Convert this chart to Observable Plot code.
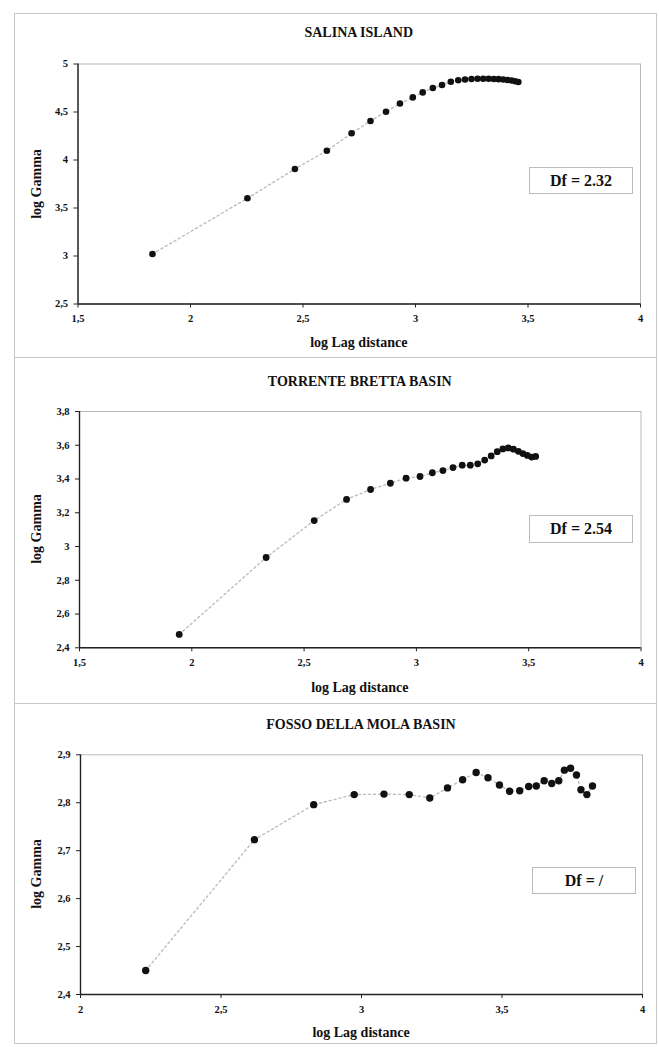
<!DOCTYPE html>
<html>
<head>
<meta charset="utf-8">
<script src="https://cdn.jsdelivr.net/npm/d3@7"></script>
<script src="https://cdn.jsdelivr.net/npm/@observablehq/plot@0.6"></script>
<style>
  html, body { margin: 0; padding: 0; background: #fff; }
  #wrap { position: relative; width: 659px; height: 1047px; font-family: "Times New Roman", Times, "Liberation Serif", "DejaVu Serif", serif; color: #111; overflow: hidden; }
  .abs { position: absolute; }
  .title { font-weight: bold; font-size: 14px; text-align: center; white-space: nowrap; transform: translate(-50%, -50%); }
  .xlab { font-weight: bold; font-size: 14px; white-space: nowrap; transform: translate(-50%, -50%); }
  .ylab { font-weight: bold; font-size: 14px; white-space: nowrap; transform: translate(-50%, -50%) rotate(-90deg); }
  .df { border: 1px solid #bbb; background: #fff; font-weight: bold; font-size: 16px; display: flex; align-items: center; justify-content: center; box-sizing: border-box; }
  .frame { border: 1px solid #c8c8c8; box-sizing: border-box; }
  .sep { height: 0; border-top: 1px solid #c8c8c8; }
</style>
</head>
<body>
<div id="wrap"></div>
<script>
// ---- Data ----
const salinaTitle = "SALINA ISLAND";
const salinaX = [1.831, 2.253, 2.464, 2.606, 2.716, 2.800, 2.869, 2.931, 2.988, 3.032, 3.077, 3.118, 3.157, 3.190, 3.220, 3.249, 3.276, 3.301, 3.325, 3.348, 3.369, 3.390, 3.409, 3.427, 3.443, 3.457];
const salinaY = [3.021, 3.601, 3.906, 4.097, 4.278, 4.406, 4.503, 4.588, 4.652, 4.704, 4.750, 4.781, 4.815, 4.830, 4.838, 4.843, 4.846, 4.847, 4.846, 4.844, 4.842, 4.838, 4.834, 4.828, 4.820, 4.812];
const salinaXTicks = [1.5, 2, 2.5, 3, 3.5, 4];
const salinaYTicks = [2.5, 3, 3.5, 4, 4.5, 5];
const salinaDf = "Df = 2.32";

const brettaTitle = "TORRENTE BRETTA BASIN";
const brettaX = [1.944, 2.331, 2.545, 2.689, 2.796, 2.884, 2.954, 3.016, 3.071, 3.118, 3.163, 3.204, 3.240, 3.273, 3.304, 3.333, 3.360, 3.385, 3.409, 3.432, 3.454, 3.474, 3.494, 3.513, 3.531];
const brettaY = [2.479, 2.935, 3.154, 3.279, 3.338, 3.375, 3.405, 3.415, 3.437, 3.450, 3.468, 3.482, 3.482, 3.490, 3.512, 3.537, 3.562, 3.578, 3.584, 3.577, 3.564, 3.551, 3.540, 3.530, 3.534];
const brettaXTicks = [1.5, 2, 2.5, 3, 3.5, 4];
const brettaYTicks = [2.4, 2.6, 2.8, 3, 3.2, 3.4, 3.6, 3.8];
const brettaDf = "Df = 2.54";

const molaTitle = "FOSSO DELLA MOLA BASIN";
const molaX = [2.232, 2.619, 2.830, 2.974, 3.080, 3.170, 3.243, 3.306, 3.360, 3.408, 3.450, 3.491, 3.527, 3.563, 3.595, 3.622, 3.650, 3.677, 3.702, 3.722, 3.744, 3.765, 3.781, 3.802, 3.822];
const molaY = [2.450, 2.723, 2.796, 2.817, 2.818, 2.817, 2.810, 2.831, 2.848, 2.863, 2.852, 2.837, 2.824, 2.825, 2.834, 2.835, 2.846, 2.840, 2.846, 2.868, 2.872, 2.858, 2.827, 2.817, 2.835];
const molaXTicks = [2, 2.5, 3, 3.5, 4];
const molaYTicks = [2.4, 2.5, 2.6, 2.7, 2.8, 2.9];
const molaDf = "Df = /";

const xLabel = "log Lag distance";
const yLabel = "log Gamma";

// ---- Layout ----
const wrap = document.getElementById("wrap");
function addDiv(cls, text, style) {
  const d = document.createElement("div");
  d.className = "abs " + cls;
  if (text != null) d.textContent = text;
  Object.assign(d.style, style);
  wrap.appendChild(d);
  return d;
}
addDiv("frame", null, {left: "14px", top: "13px", width: "643px", height: "1031px"});
addDiv("sep", null, {left: "14px", top: "357px", width: "643px"});
addDiv("sep", null, {left: "14px", top: "703px", width: "643px"});

const fmt = v => String(v).replace(".", ",");

function panel(o) {
  const data = o.xs.map((x, i) => ({x, y: o.ys[i]}));
  const svgH = o.svgBottom - o.svgTop;
  const chart = Plot.plot({
    width: 659,
    height: svgH,
    marginLeft: o.left,
    marginRight: 659 - o.right,
    marginTop: o.top - o.svgTop,
    marginBottom: o.svgBottom - o.bottom,
    style: {fontFamily: "'Times New Roman', Times, 'Liberation Serif', 'DejaVu Serif', serif", fontSize: "10.5px", fontWeight: "bold", color: "#111", background: "transparent"},
    x: {domain: o.xDomain, ticks: o.xTicks},
    y: {domain: o.yDomain, ticks: o.yTicks},
    marks: [
      Plot.frame({stroke: "#b8b8b8", strokeWidth: 1}),
      Plot.axisX({ticks: o.xTicks, tickFormat: fmt, tickSize: 4, tickPadding: 7, label: null, stroke: "#222"}),
      Plot.axisY({ticks: o.yTicks, tickFormat: fmt, tickSize: 4, tickPadding: 6, label: null, stroke: "#222"}),
      Plot.ruleX([o.xDomain[0]], {stroke: "#222", strokeWidth: 1.4}),
      Plot.ruleY([o.yDomain[0]], {stroke: "#222", strokeWidth: 1.4}),
      Plot.line(data, {x: "x", y: "y", stroke: "#bdbdbd", strokeWidth: 1.4, strokeDasharray: "2,3"}),
      Plot.dot(data, {x: "x", y: "y", r: o.r, fill: "#111", stroke: "none"})
    ]
  });
  chart.style.position = "absolute";
  chart.style.left = "0px";
  chart.style.top = o.svgTop + "px";
  wrap.appendChild(chart);
  const cx = (o.left + o.right) / 2;
  addDiv("title", o.title, {left: cx + "px", top: o.titleY + "px"});
  addDiv("xlab", xLabel, {left: cx + "px", top: o.xLabY + "px"});
  addDiv("ylab", yLabel, {left: "37px", top: ((o.top + o.bottom) / 2) + "px"});
  addDiv("df", o.df, {left: o.box[0] + "px", top: o.box[1] + "px", width: (o.box[2] - o.box[0]) + "px", height: (o.box[3] - o.box[1]) + "px"});
}

panel({title: salinaTitle, xs: salinaX, ys: salinaY, xTicks: salinaXTicks, yTicks: salinaYTicks,
  xDomain: [1.5, 4], yDomain: [2.5, 5], df: salinaDf, r: 3.3,
  svgTop: 50, svgBottom: 332, left: 77.5, right: 640, top: 63.5, bottom: 303.5,
  titleY: 33, xLabY: 343, box: [529, 167, 633, 194]});

panel({title: brettaTitle, xs: brettaX, ys: brettaY, xTicks: brettaXTicks, yTicks: brettaYTicks,
  xDomain: [1.5, 4], yDomain: [2.4, 3.8], df: brettaDf, r: 3.4,
  svgTop: 400, svgBottom: 672, left: 79, right: 640.5, top: 411, bottom: 647.3,
  titleY: 382, xLabY: 688, box: [529, 515, 633, 543]});

panel({title: molaTitle, xs: molaX, ys: molaY, xTicks: molaXTicks, yTicks: molaYTicks,
  xDomain: [2, 4], yDomain: [2.4, 2.9], df: molaDf, r: 3.7,
  svgTop: 742, svgBottom: 1020, left: 80, right: 642, top: 754.3, bottom: 994,
  titleY: 725, xLabY: 1033, box: [532, 867, 636, 894]});
</script>
</body>
</html>
